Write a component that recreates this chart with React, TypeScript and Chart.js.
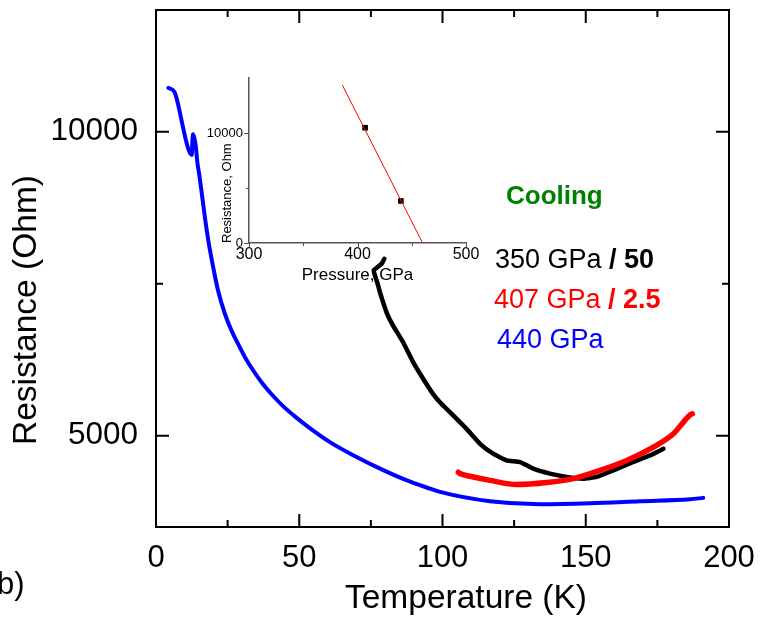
import React, { useEffect, useRef } from "react";
import { Chart, registerables } from "chart.js";

Chart.register(...registerables);

const FONT = '"Liberation Sans", Arial, Helvetica, sans-serif';

// ---------- main chart data ----------
const tempTicks = [0, 50, 100, 150, 200];
const tempMinorTicks = [25, 75, 125, 175];
const resTicks = [5000, 10000];
const resMinorTicks = [7500];
const xTitle = "Temperature (K)";
const yTitle = "Resistance (Ohm)";

// 440 GPa (blue)
const blueT = [4.3, 6.4, 7.2, 8.4, 9.5, 10.7, 11.9, 12.5, 12.7, 12.9, 13.4, 13.9, 14.4, 15.1, 15.9, 17.1, 18.3, 20.0, 21.7, 24.1, 26.4, 28.7, 31.1, 34.0, 37.3, 40.9, 45.0, 49.1, 53.8, 60.7, 69.5, 78.2, 86.9, 95.6, 99.1, 116.6, 134.0, 151.5, 168.9, 186.4, 191.0];
const blueR = [10721, 10655, 10547, 10301, 10056, 9810, 9646, 9618, 9836, 9957, 9892, 9754, 9509, 9291, 9017, 8581, 8198, 7762, 7379, 6998, 6724, 6506, 6288, 6069, 5851, 5654, 5458, 5294, 5122, 4896, 4663, 4459, 4278, 4131, 4077, 3923, 3874, 3890, 3923, 3956, 3979];

// 350 GPa / 50 (black)
const blackT = [79.7, 78.8, 76.0, 76.5, 77.6, 78.2, 80.5, 82.8, 86.3, 89.8, 93.3, 96.8, 99.1, 103.8, 108.4, 113.1, 117.7, 122.4, 127.1, 131.7, 137.5, 143.3, 149.1, 153.8, 159.6, 166.6, 172.4, 177.1];
const blackR = [7910, 7830, 7720, 7625, 7461, 7353, 7025, 6806, 6534, 6206, 5933, 5680, 5551, 5332, 5114, 4868, 4705, 4595, 4568, 4459, 4377, 4323, 4295, 4323, 4431, 4568, 4677, 4786];

// 407 GPa / 2.5 (red)
const redT = [105.5, 106.5, 110.0, 116.6, 125.9, 136.4, 145.7, 155.0, 164.3, 173.6, 180.6, 184.1, 186.4, 187.2];
const redR = [4400, 4370, 4330, 4267, 4197, 4230, 4295, 4431, 4595, 4814, 5032, 5224, 5343, 5360];

// ---------- inset data ----------
const insetP = [407, 440];
const insetR = [10480, 3818];
const fitP = [386, 460];
const fitR = [14360, 0];
const insetPTicks = [300, 400, 500];
const insetPMinor = [350, 450];
const insetRTicks = [0, 10000];
const insetRMinor = [5000];

const pts = (xs: number[], ys: number[]) => xs.map((x, i) => ({ x, y: ys[i] }));

const zeroPad = (s: any) => {
  s.paddingTop = 0;
  s.paddingBottom = 0;
  s.paddingLeft = 0;
  s.paddingRight = 0;
};

const framePlugin = {
  id: "frame",
  afterDraw(chart: any) {
    const { ctx, chartArea, scales } = chart;
    const { left, right, top, bottom } = chartArea;
    const x = scales.x;
    const y = scales.y;
    ctx.save();
    ctx.strokeStyle = "#000";
    ctx.lineWidth = 2;
    ctx.strokeRect(left, top, right - left, bottom - top);
    ctx.beginPath();
    const vt = (vals: number[], len: number) => {
      vals.forEach((v) => {
        const px = x.getPixelForValue(v);
        ctx.moveTo(px, bottom);
        ctx.lineTo(px, bottom - len);
        ctx.moveTo(px, top);
        ctx.lineTo(px, top + len);
      });
    };
    const ht = (vals: number[], len: number) => {
      vals.forEach((v) => {
        const py = y.getPixelForValue(v);
        ctx.moveTo(left, py);
        ctx.lineTo(left + len, py);
        ctx.moveTo(right, py);
        ctx.lineTo(right - len, py);
      });
    };
    vt(tempTicks, 13);
    vt(tempMinorTicks, 7);
    ht(resTicks, 13);
    ht(resMinorTicks, 7);
    ctx.stroke();
    ctx.restore();
  },
};

const textPlugin = {
  id: "texts",
  afterDraw(chart: any) {
    const ctx = chart.ctx;
    ctx.save();
    ctx.textBaseline = "alphabetic";
    ctx.textAlign = "left";
    const seg = (x: number, y: number, parts: [string, boolean][], color: string, size: number) => {
      let cx = x;
      parts.forEach(([t, bold]) => {
        ctx.font = `${bold ? "bold " : ""}${size}px ${FONT}`;
        ctx.fillStyle = color;
        ctx.fillText(t, cx, y);
        cx += ctx.measureText(t).width;
      });
    };
    seg(506, 204, [["Cooling", true]], "#008000", 26);
    seg(495, 268, [["350 GPa ", false], ["/ 50", true]], "#000000", 27);
    seg(494, 308, [["407 GPa ", false], ["/ 2.5", true]], "#ff0000", 27);
    seg(497, 348, [["440 GPa", false]], "#0000ff", 27);
    seg(-3, 594, [["b)", false]], "#000000", 31);

    // axis titles
    ctx.fillStyle = "#000";
    ctx.font = `33.5px ${FONT}`;
    ctx.textAlign = "center";
    ctx.textBaseline = "middle";
    ctx.fillText(xTitle, 466, 599);
    ctx.translate(27, 310);
    ctx.rotate(-Math.PI / 2);
    ctx.fillText(yTitle, 0, 0);
    ctx.restore();
  },
};

const insetTickPlugin = {
  id: "insetTicks",
  afterDraw(chart: any) {
    const { ctx, chartArea, scales } = chart;
    const { left, bottom } = chartArea;
    ctx.save();
    ctx.strokeStyle = "#555";
    ctx.lineWidth = 1;
    ctx.beginPath();
    insetRTicks.forEach((v) => {
      const py = Math.round(scales.y.getPixelForValue(v)) + 0.5;
      ctx.moveTo(left, py);
      ctx.lineTo(left - 5, py);
    });
    insetRMinor.forEach((v) => {
      const py = Math.round(scales.y.getPixelForValue(v)) + 0.5;
      ctx.moveTo(left, py);
      ctx.lineTo(left - 3, py);
    });
    insetPTicks.forEach((v) => {
      const px = Math.round(scales.x.getPixelForValue(v)) + 0.5;
      ctx.moveTo(px, bottom);
      ctx.lineTo(px, bottom + 4);
    });
    insetPMinor.forEach((v) => {
      const px = Math.round(scales.x.getPixelForValue(v)) + 0.5;
      ctx.moveTo(px, bottom);
      ctx.lineTo(px, bottom + 3);
    });
    ctx.stroke();
    ctx.restore();
  },
};

export default function App() {
  const mainRef = useRef<HTMLCanvasElement>(null);
  const insetRef = useRef<HTMLCanvasElement>(null);

  useEffect(() => {
    document.body.style.margin = "0";
    const lineDs = (xs: number[], ys: number[], color: string, width: number, monotone: boolean) => ({
      data: pts(xs, ys),
      borderColor: color,
      borderWidth: width,
      pointRadius: 0,
      tension: monotone ? 0 : 0.15,
      cubicInterpolationMode: monotone ? "monotone" : "default",
      fill: false,
      borderCapStyle: "round",
      borderJoinStyle: "round",
    });
    const main = new Chart(mainRef.current as HTMLCanvasElement, {
      type: "line",
      data: {
        datasets: [
          lineDs(blueT, blueR, "#0000ff", 4, true),
          lineDs(redT, redR, "#ff0000", 5.5, true),
          lineDs(blackT, blackR, "#000000", 4.5, false),
        ],
      } as any,
      options: {
        animation: false,
        responsive: false,
        maintainAspectRatio: false,
        events: [],
        layout: { padding: { left: 0, top: 10, right: 31, bottom: 0 } },
        plugins: { legend: { display: false }, tooltip: { enabled: false } },
        scales: {
          x: {
            type: "linear",
            min: 0,
            max: 200,
            afterBuildTicks: (s: any) => {
              s.ticks = tempTicks.map((v) => ({ value: v }));
            },
            afterFit: (s: any) => {
              s.height = 91;
              zeroPad(s);
            },
            grid: { display: false, drawTicks: false },
            border: { display: false },
            ticks: {
              color: "#000",
              font: { family: FONT, size: 31 },
              padding: 13,
              maxRotation: 0,
              callback: (v: any) => String(v),
            },
            title: { display: false },
          },
          y: {
            type: "linear",
            min: 3500,
            max: 12000,
            afterBuildTicks: (s: any) => {
              s.ticks = resTicks.map((v) => ({ value: v }));
            },
            afterFit: (s: any) => {
              s.width = 156;
              zeroPad(s);
            },
            grid: { display: false, drawTicks: false },
            border: { display: false },
            ticks: {
              color: "#000",
              font: { family: FONT, size: 31.5 },
              padding: 18,
              callback: (v: any) => String(v),
            },
            title: { display: false },
          },
        },
      } as any,
      plugins: [framePlugin, textPlugin],
    });

    const inset = new Chart(insetRef.current as HTMLCanvasElement, {
      type: "line",
      data: {
        datasets: [
          {
            data: pts(fitP, fitR),
            borderColor: "#ff0000",
            borderWidth: 1,
            pointRadius: 0,
            fill: false,
          },
          {
            data: pts(insetP, insetR),
            showLine: false,
            pointStyle: "rect",
            pointRadius: 4,
            backgroundColor: "#000",
            borderColor: "#000",
            borderWidth: 0,
          },
        ],
      } as any,
      options: {
        animation: false,
        responsive: false,
        maintainAspectRatio: false,
        events: [],
        layout: { padding: { left: 0, top: 13, right: 19, bottom: 0 } },
        plugins: { legend: { display: false }, tooltip: { enabled: false } },
        scales: {
          x: {
            type: "linear",
            min: 300,
            max: 500,
            afterBuildTicks: (s: any) => {
              s.ticks = insetPTicks.map((v) => ({ value: v }));
            },
            afterFit: (s: any) => {
              s.height = 47;
              zeroPad(s);
            },
            grid: { display: false, drawTicks: false },
            border: { display: true, color: "#555", width: 1.5 },
            ticks: {
              color: "#000",
              font: { family: FONT, size: 16 },
              padding: 2,
              maxRotation: 0,
              callback: (v: any) => String(v),
            },
            title: {
              display: true,
              text: "Pressure, GPa",
              color: "#000",
              font: { family: FONT, size: 17 },
              padding: { top: 0, bottom: 4 },
            },
          },
          y: {
            type: "linear",
            min: 0,
            max: 15000,
            afterBuildTicks: (s: any) => {
              s.ticks = insetRTicks.map((v) => ({ value: v }));
            },
            afterFit: (s: any) => {
              s.width = 54;
              zeroPad(s);
            },
            grid: { display: false, drawTicks: false },
            border: { display: true, color: "#555", width: 1.5 },
            ticks: {
              color: "#000",
              font: { family: FONT, size: 13 },
              padding: 6,
              callback: (v: any) => String(v),
            },
            title: {
              display: true,
              text: "Resistance, Ohm",
              align: "start",
              color: "#000",
              font: { family: FONT, size: 13 },
              padding: { top: 25, bottom: 0 },
            },
          },
        },
      } as any,
      plugins: [insetTickPlugin],
    });

    return () => {
      main.destroy();
      inset.destroy();
    };
  }, []);

  return (
    <div style={{ position: "absolute", left: 0, top: 0, width: 760, height: 618, background: "#fff" }}>
      <canvas
        ref={mainRef}
        width={760}
        height={618}
        style={{ position: "absolute", left: 0, top: 0, width: 760, height: 618 }}
      />
      <canvas
        ref={insetRef}
        width={290}
        height={225}
        style={{ position: "absolute", left: 195, top: 65, width: 290, height: 225 }}
      />
    </div>
  );
}
